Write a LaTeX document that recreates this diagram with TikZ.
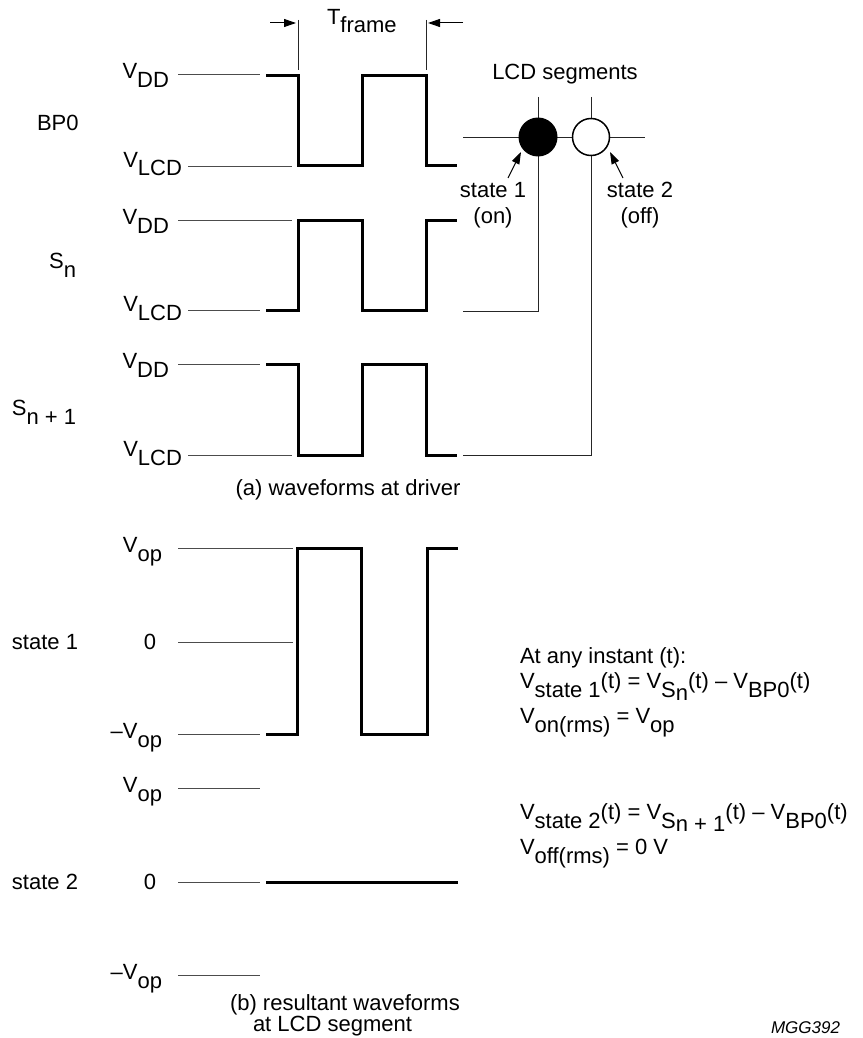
\documentclass[tikz,border=0pt]{standalone}
\usepackage{fontspec}
\setmainfont{Liberation Sans}
\usetikzlibrary{arrows.meta,calc}
\newcommand{\lo}[1]{\raisebox{-9pt}{#1}}
\newcommand{\lon}[1]{\raisebox{-3pt}{#1}}
\begin{document}
\begin{tikzpicture}[x=1pt,y=-1pt,
  every node/.style={font=\fontsize{22}{26}\selectfont, inner sep=0pt, outer sep=0pt},
  wave/.style={line width=3pt, line join=miter, line cap=butt},
  ref/.style={line width=1pt, black!70},
  wire/.style={line width=1pt, black!85},
  tip/.style={line width=1pt, black, -{Triangle[length=12pt,width=8pt]}},
  lv/.style={anchor=base east},
  lw/.style={anchor=base west},
]
\useasboundingbox[fill=white] (0,0) rectangle (862,1038);

% ---------- (a) waveforms at driver ----------
% T_frame
\node[lw] (tf) at (327,25) {T\raisebox{-8pt}{frame}};
\coordinate (tl0) at (270,23);
\coordinate (tl1) at (296,23);
\coordinate (tr0) at (463,23);
\coordinate (tr1) at (428,23);
\draw[tip] (tl0) -- (tl1);
\draw[tip] (tr0) -- (tr1);
\draw[wire] (298,20) -- (298,70);
\draw[wire] (426,20) -- (426,70);

% BP0
\node[lw] (bp0) at (37,131) {BP0};
\node[lv] (vdd0) at (169,79) {V\lo{DD}};
\node[lv] (vlcd0) at (182,167) {V\lo{LCD}};
\draw[ref] (178,75) -- (260,75);
\draw[ref] (188,166) -- (292,166);
\draw[wave] (266,76) -- (298,76) -- (298,165) -- (362,165) -- (362,76) -- (426,76) -- (426,165) -- (457,165);

% Sn
\node[lv] (sn) at (76,268) {S\lo{n}};
\node[lv] (vdd1) at (169,224) {V\lo{DD}};
\node[lv] (vlcd1) at (182,311) {V\lo{LCD}};
\draw[ref] (178,220) -- (292,220);
\draw[ref] (188,310) -- (260,310);
\draw[wave] (266,310) -- (298,310) -- (298,220) -- (362,220) -- (362,310) -- (426,310) -- (426,220) -- (457,220);

% Sn+1
\node[lw] (sn1) at (12,415) {S\lo{n + 1}};
\node[lv] (vdd2) at (169,368) {V\lo{DD}};
\node[lv] (vlcd2) at (182,456) {V\lo{LCD}};
\draw[ref] (178,364) -- (260,364);
\draw[ref] (188,455) -- (292,455);
\draw[wave] (266,364) -- (298,364) -- (298,455) -- (362,455) -- (362,364) -- (426,364) -- (426,455) -- (457,455);

\node[anchor=base] (capa) at (348,495) {(a) waveforms at driver};

% LCD segments
\node[anchor=base] (lcds) at (565,80) {LCD segments};
\coordinate (p1) at (538,137);
\coordinate (p2) at (591,137);
\coordinate (hl) at (463,137);
\coordinate (hr) at (645,137);
\coordinate (t1) at (538,97);
\coordinate (t2) at (591,97);
\coordinate (w1) at (463,311);
\coordinate (w2) at (463,455);
\draw[wire] (hl) -- (hr);
\draw[wire] (t1) -- (p1);
\draw[wire] (t2) -- (p2);
\draw[wire] (w1) -| (p1);
\draw[wire] (w2) -| (p2);
\node[circle, fill=black, minimum size=39pt] (c1) at (p1) {};
\node[circle, draw=black, line width=1.5pt, fill=white, minimum size=37pt] (c2) at (p2) {};

\node[anchor=north, align=center] (s1) at (493,182) {state 1\\(on)};
\node[anchor=north, align=center] (s2) at (640,182) {state 2\\(off)};
\coordinate (a1t) at (508,178);
\coordinate (a1h) at (521,152);
\coordinate (a2t) at (623,178);
\coordinate (a2h) at (610,152);
\draw[tip] (a1t) -- (a1h);
\draw[tip] (a2t) -- (a2h);

% ---------- (b) resultant waveforms ----------
\node[lw] (st1) at (12,649) {state 1};
\node[lv] (vop1) at (162,552) {V\lo{op}};
\node[anchor=base] (z1) at (150,649) {0};
\node[lv] (mvop1) at (162,738) {–V\lo{op}};
\draw[ref] (178,548) -- (293,548);
\draw[ref] (178,642) -- (293,642);
\draw[ref] (178,734) -- (260,734);
\draw[wave] (266,734) -- (297,734) -- (297,548) -- (361,548) -- (361,734) -- (427,734) -- (427,548) -- (458,548);

\node[lw] (st2) at (12,889) {state 2};
\node[lv] (vop2) at (162,792) {V\lo{op}};
\node[anchor=base] (z2) at (150,889) {0};
\node[lv] (mvop2) at (162,979) {–V\lo{op}};
\draw[ref] (178,788) -- (260,788);
\draw[ref] (178,882) -- (260,882);
\draw[ref] (178,975) -- (260,975);
\draw[wave] (266,882) -- (458,882);

\node[lw] (capb1) at (230,1010) {(b) resultant waveforms};
\node[lw] (capb2) at (253,1031) {at LCD segment};

% formulas
\node[lw] (f1) at (520,663) {At any instant (t):};
\node[lw] (f2) at (520,688) {V\lo{state 1}(t) = V\lo{S\lon{n}}(t) – V\lo{BP0}(t)};
\node[lw] (f3) at (520,723) {V\lo{on(rms)} = V\lo{op}};
\node[lw] (f4) at (520,819) {V\lo{state 2}(t) = V\lo{S\lon{n + 1}}(t) – V\lo{BP0}(t)};
\node[lw] (f5) at (520,854) {V\lo{off(rms)} = 0 V};

\node[anchor=base east, font=\fontsize{17}{20}\selectfont\itshape] (mgg) at (840,1033) {MGG392};
\end{tikzpicture}
\end{document}
